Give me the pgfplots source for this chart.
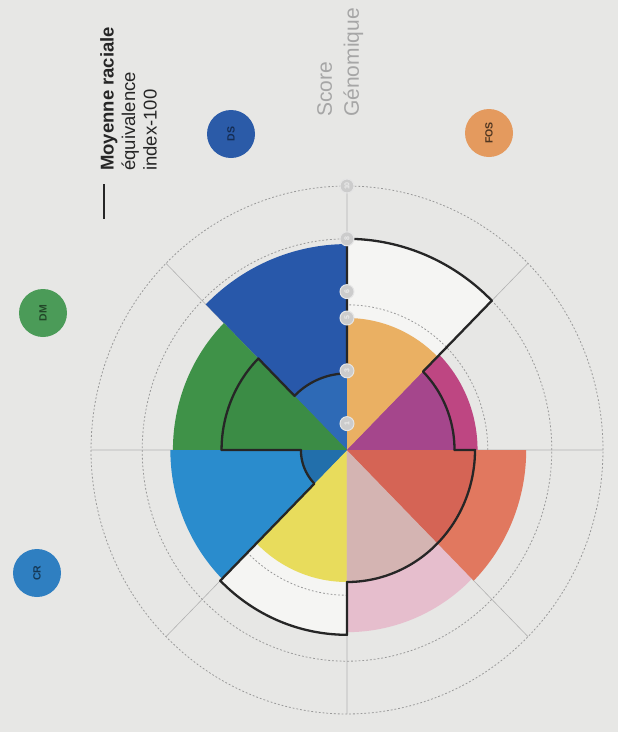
\documentclass[border=0pt]{standalone}
\usepackage{fontspec}
\setmainfont{Liberation Sans}
\usepackage{pgfplots}
\pgfplotsset{compat=1.18}
\usepgfplotslibrary{polar}

\definecolor{paper}{HTML}{E7E7E5}
\definecolor{avgwhite}{HTML}{F5F5F3}
\definecolor{dsOut}{HTML}{2858AA}
\definecolor{dsIn}{HTML}{2E6AB6}
\definecolor{dmOut}{HTML}{3F9248}
\definecolor{dmIn}{HTML}{3B8C45}
\definecolor{crOut}{HTML}{2A8CCD}
\definecolor{crIn}{HTML}{226FAB}
\definecolor{yel}{HTML}{E8DC5C}
\definecolor{pkOut}{HTML}{E6BECD}
\definecolor{pkIn}{HTML}{D4B4B2}
\definecolor{rdOut}{HTML}{E1785F}
\definecolor{rdIn}{HTML}{D56455}
\definecolor{mgOut}{HTML}{BE4682}
\definecolor{mgIn}{HTML}{A5468C}
\definecolor{org}{HTML}{EAB063}
\definecolor{bDS}{HTML}{2B5BA8}
\definecolor{bFOS}{HTML}{E49A5E}
\definecolor{bDM}{HTML}{4B9B58}
\definecolor{bCR}{HTML}{2F7FC1}

\begin{document}
\begin{tikzpicture}
\fill[paper] (0pt,0pt) rectangle (618pt,-732pt);

% legend
\draw[line width=2.6pt, black!85] (104pt,-184pt) -- (104pt,-219pt);
\node[rotate=90, anchor=north west, inner sep=0pt, align=left,
      font=\fontsize{18.5}{21.5}\selectfont, text=black!85] at (100pt,-171pt)
  {\textbf{Moyenne raciale}\\équivalence\\index-100};
\node[rotate=90, anchor=north west, inner sep=0pt, align=left,
      font=\fontsize{21}{27}\selectfont, text=black!35] at (317pt,-117pt)
  {Score\\Génomique};

% category bubbles
\tikzset{bubble/.style={circle, minimum size=48pt, inner sep=0pt, rotate=90,
  font=\fontsize{10.5}{10.5}\selectfont\bfseries}}
\node[bubble, fill=bDS, text=bDS!50!black] at (231pt,-134pt) {DS};
\node[bubble, fill=bFOS, text=bFOS!35!black] at (489pt,-133pt) {FOS};
\node[bubble, fill=bDM, text=bDM!45!black] at (43pt,-313pt) {DM};
\node[bubble, fill=bCR, text=bCR!45!black] at (37pt,-573pt) {CR};

\begin{polaraxis}[
  at={(347pt,-450pt)}, anchor=center,
  scale only axis, width=512pt, height=528pt,
  ymin=0, ymax=10,
  xtick=\empty, ytick=\empty,
  axis line style={draw=none},
  clip=false,
  avgw/.style={fill=avgwhite, draw=none, samples=40},
  wedge/.style={draw=none, samples=40},
  avgline/.style={draw=black!85, line width=2.3pt, line cap=round, line join=round, samples=40},
  gridcircle/.style={draw=gray!80, line width=0.8pt, dash pattern=on 1.8pt off 2pt, samples=181, domain=0:360},
]
% average region (white)
\addplot[avgw, domain=0:45]    {4.2} -- (axis cs:0,0) -- cycle;
\addplot[avgw, domain=45:90]   {8.0} -- (axis cs:0,0) -- cycle;
\addplot[avgw, domain=90:135]  {2.9} -- (axis cs:0,0) -- cycle;
\addplot[avgw, domain=135:180] {4.9} -- (axis cs:0,0) -- cycle;
\addplot[avgw, domain=180:225] {1.8} -- (axis cs:0,0) -- cycle;
\addplot[avgw, domain=225:270] {7.0} -- (axis cs:0,0) -- cycle;
\addplot[avgw, domain=270:315] {5.0} -- (axis cs:0,0) -- cycle;
\addplot[avgw, domain=315:360] {5.0} -- (axis cs:0,0) -- cycle;

% grid: radial lines and dotted rings
\addplot[polar comb, mark=none, draw=gray!60, line width=0.6pt]
  coordinates {(0,10) (45,10) (90,10) (135,10) (180,10) (225,10) (270,10) (315,10)};
\addplot[gridcircle] {5.5};
\addplot[gridcircle] {8};
\addplot[gridcircle] {10};

% genomic score (outer colour)
\addplot[wedge, fill=mgOut, domain=0:45]    {5.1} -- (axis cs:0,0) -- cycle;
\addplot[wedge, fill=org,   domain=45:90]   {5.0} -- (axis cs:0,0) -- cycle;
\addplot[wedge, fill=dsOut, domain=90:135]  {7.8} -- (axis cs:0,0) -- cycle;
\addplot[wedge, fill=dmOut, domain=135:180] {6.8} -- (axis cs:0,0) -- cycle;
\addplot[wedge, fill=crOut, domain=180:225] {6.9} -- (axis cs:0,0) -- cycle;
\addplot[wedge, fill=yel,   domain=225:270] {5.0} -- (axis cs:0,0) -- cycle;
\addplot[wedge, fill=pkOut, domain=270:315] {6.9} -- (axis cs:0,0) -- cycle;
\addplot[wedge, fill=rdOut, domain=315:360] {7.0} -- (axis cs:0,0) -- cycle;

% part of the score inside the average (inner colour)
\addplot[wedge, fill=mgIn, domain=0:45]    {4.2} -- (axis cs:0,0) -- cycle;
\addplot[wedge, fill=dsIn, domain=90:135]  {2.9} -- (axis cs:0,0) -- cycle;
\addplot[wedge, fill=dmIn, domain=135:180] {4.9} -- (axis cs:0,0) -- cycle;
\addplot[wedge, fill=crIn, domain=180:225] {1.8} -- (axis cs:0,0) -- cycle;
\addplot[wedge, fill=pkIn, domain=270:315] {5.0} -- (axis cs:0,0) -- cycle;
\addplot[wedge, fill=rdIn, domain=315:360] {5.0} -- (axis cs:0,0) -- cycle;

% average line (Moyenne raciale, index-100)
\addplot[avgline, domain=0:45]    {4.2} -- (axis cs:45,8.0);
\addplot[avgline, domain=45:90]   {8.0} -- (axis cs:90,2.9);
\addplot[avgline, domain=90:135]  {2.9} -- (axis cs:135,4.9);
\addplot[avgline, domain=135:180] {4.9} -- (axis cs:180,1.8);
\addplot[avgline, domain=180:225] {1.8} -- (axis cs:225,7.0);
\addplot[avgline, domain=225:270] {7.0} -- (axis cs:270,5.0);
\addplot[avgline, domain=270:315] {5.0};
\addplot[avgline, domain=315:360] {5.0} -- (axis cs:360,4.2);

% radial tick badges
\addplot[only marks, mark=*, mark size=7pt,
  mark options={fill=gray!40, draw=white!80!gray, line width=1pt},
  point meta=explicit symbolic, nodes near coords,
  nodes near coords style={anchor=center, rotate=90, text=white!85!gray,
     font=\fontsize{7}{7}\selectfont\bfseries}]
  coordinates {(90,1) [1] (90,3) [3] (90,5) [5] (90,6) [6] (90,8) [8] (90,10) [10]};
\end{polaraxis}
\pgfresetboundingbox
\path[use as bounding box] (0pt,0pt) rectangle (618pt,-732pt);
\end{tikzpicture}
\end{document}
